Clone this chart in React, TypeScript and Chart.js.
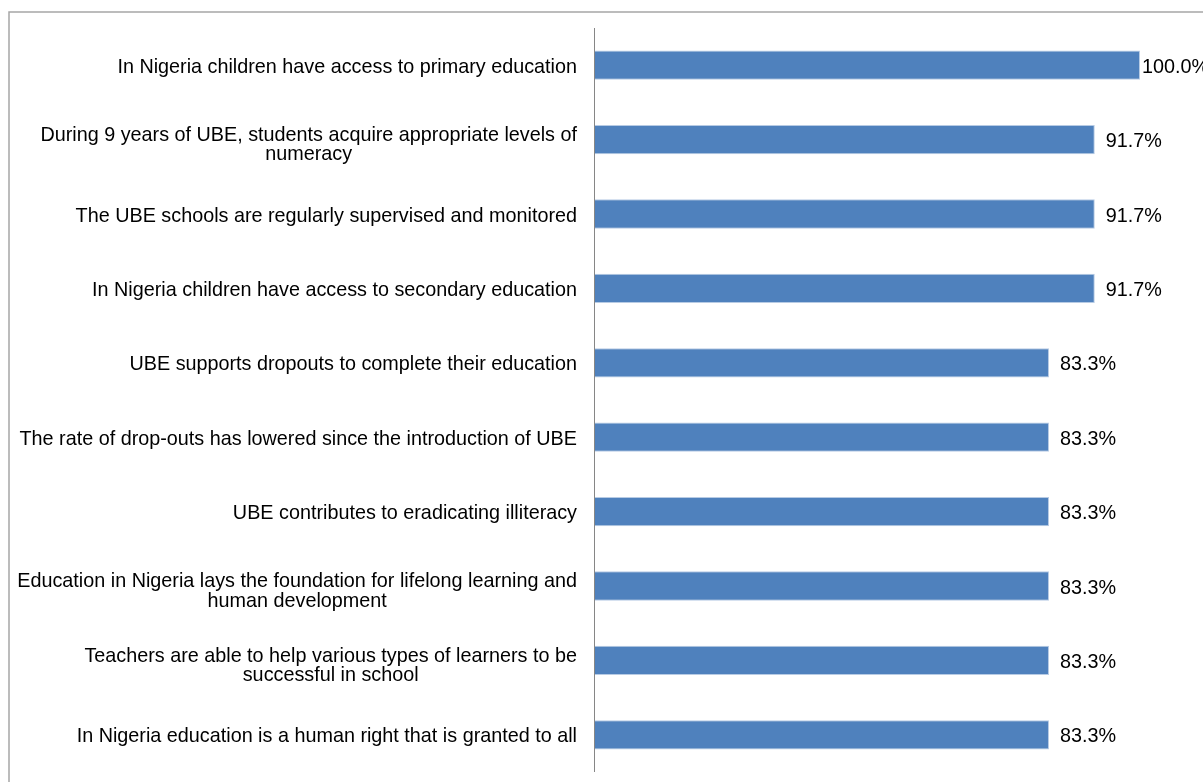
import React, { useEffect, useRef } from "react";
import { Chart, registerables } from "chart.js";

Chart.register(...registerables);

const categories: string[][] = [
  ["In Nigeria children have access to primary education"],
  ["During 9 years of UBE, students acquire appropriate levels of", "numeracy"],
  ["The UBE schools are regularly supervised and monitored"],
  ["In Nigeria children have access to secondary education"],
  ["UBE supports dropouts to complete their education"],
  ["The rate of drop-outs has lowered since the introduction of UBE"],
  ["UBE contributes to eradicating illiteracy"],
  ["Education in Nigeria lays the foundation for lifelong learning and", "human development"],
  ["Teachers are able to help various types of learners to be", "successful in school"],
  ["In Nigeria education is a human right that is granted to all"],
];

const values: number[] = [100.0, 91.7, 91.7, 91.7, 83.3, 83.3, 83.3, 83.3, 83.3, 83.3];

const FONT = "19.8px 'Liberation Sans', Arial, sans-serif";

const decorPlugin = {
  id: "decor",
  beforeDraw(chart: any) {
    const { ctx } = chart;
    ctx.save();
    ctx.fillStyle = "#ffffff";
    ctx.fillRect(0, 0, chart.width, chart.height);
    ctx.strokeStyle = "#a6a6a6";
    ctx.lineWidth = 1.5;
    ctx.beginPath();
    ctx.moveTo(9, chart.height + 10);
    ctx.lineTo(9, 12);
    ctx.lineTo(chart.width + 10, 12);
    ctx.stroke();
    ctx.restore();
  },
  afterDatasetsDraw(chart: any) {
    const { ctx, chartArea } = chart;
    const yScale = chart.scales.y;
    ctx.save();
    // axis line
    ctx.strokeStyle = "#868686";
    ctx.lineWidth = 1;
    ctx.beginPath();
    ctx.moveTo(Math.round(chartArea.left) - 0.5, chartArea.top);
    ctx.lineTo(Math.round(chartArea.left) - 0.5, chartArea.bottom);
    ctx.stroke();

    ctx.font = FONT;
    ctx.fillStyle = "#000000";
    ctx.textBaseline = "alphabetic";
    const capHalf = 7.5;
    const lh = 19.5;
    const rightEdge = chartArea.left - 18;
    categories.forEach((lines, i) => {
      const cy = yScale.getPixelForValue(i);
      const widths = lines.map((l) => ctx.measureText(l).width);
      const blockW = Math.max(...widths);
      const n = lines.length;
      const shift = n > 1 ? 3.5 : 0;
      lines.forEach((line, j) => {
        const base = cy + capHalf + shift - ((n - 1) * lh) / 2 + j * lh;
        if (n === 1) {
          ctx.textAlign = "right";
          ctx.fillText(line, rightEdge, base);
        } else {
          ctx.textAlign = "center";
          ctx.fillText(line, rightEdge - blockW / 2, base);
        }
      });
    });

    // value labels
    const meta = chart.getDatasetMeta(0);
    ctx.textAlign = "left";
    meta.data.forEach((bar: any, i: number) => {
      const txt = values[i].toFixed(1) + "%";
      const w = ctx.measureText(txt).width;
      const x = Math.min(bar.x + 11, chart.width + 6 - w);
      ctx.fillText(txt, x, bar.y + capHalf);
    });
    ctx.restore();
  },
};

export default function App() {
  const ref = useRef<HTMLCanvasElement | null>(null);
  useEffect(() => {
    if (!ref.current) return;
    const chart = new Chart(ref.current, {
      type: "bar",
      data: {
        labels: categories.map((c) => c.join(" ")),
        datasets: [
          {
            data: values,
            backgroundColor: "#4F81BD",
            borderColor: "#b7cbe4",
            borderWidth: 1,
            barPercentage: 0.394,
            categoryPercentage: 1,
          },
        ],
      },
      options: {
        indexAxis: "y",
        animation: false,
        responsive: false,
        events: [],
        layout: { padding: { left: 595, right: 63, top: 28, bottom: 10 } },
        plugins: {
          legend: { display: false },
          tooltip: { enabled: false },
          title: { display: false },
        },
        scales: {
          x: { display: false, min: 0, max: 100 },
          y: { display: false },
        },
      },
      plugins: [decorPlugin],
    });
    return () => chart.destroy();
  }, []);
  return (
    <div style={{ position: "fixed", left: 0, top: 0, width: 1203, height: 782, background: "#fff" }}>
      <canvas ref={ref} width={1203} height={782} style={{ display: "block" }} />
    </div>
  );
}
